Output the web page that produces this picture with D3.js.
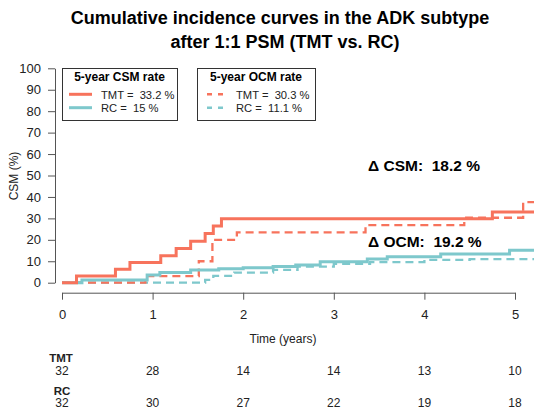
<!DOCTYPE html>
<html><head><meta charset="utf-8">
<script src="https://cdn.jsdelivr.net/npm/d3@7"></script>
<style>
body{margin:0;background:#fff;}
svg{display:block;font-family:"Liberation Sans",Arial,sans-serif;}
text{white-space:pre;}
</style></head>
<body><svg id="c" width="534" height="409"></svg>
<script>
// Data (time in years, cumulative incidence in %)
const tmtCSM = [[0,0],[0.16,3.1],[0.59,6.3],[0.75,9.4],[1.09,12.6],[1.26,15.9],[1.42,19.3],[1.58,22.9],[1.67,26.4],[1.76,29.8],[4.75,33.0],[5.3,33.0]];
const tmtOCM = [[0,0],[0.92,3.1],[1.51,10.0],[1.66,20.0],[1.93,23.5],[3.35,26.9],[4.44,30.3],[5.09,37.6],[5.3,37.6]];
const rcCSM  = [[0,0],[0.22,1.3],[0.94,3.6],[1.08,4.7],[1.42,5.9],[1.73,6.5],[2.0,7.0],[2.33,7.5],[2.58,8.3],[2.85,9.8],[3.37,11.0],[3.59,12.1],[4.18,13.4],[4.94,15.1],[5.3,15.1]];
const rcOCM  = [[0,0],[1.58,1.3],[1.67,3.2],[1.9,4.7],[2.33,6.0],[2.6,7.5],[3.0,8.8],[3.4,9.6],[4.0,10.6],[4.5,11.0],[5.3,11.0]];
const xTicks = [0,1,2,3,4,5];
const yTicks = [0,10,20,30,40,50,60,70,80,90,100];
const riskTMT = [32,28,14,14,13,10];
const riskRC  = [32,30,27,22,19,18];
const csmLegend = ["TMT =  33.2 %","RC =  15 %"];
const ocmLegend = ["TMT =  30.3 %","RC =  11.1 %"];
const deltaLabels = ["\u0394 CSM:  18.2 %","\u0394 OCM:  19.2 %"];

const RED = "#f7735c", TEAL = "#7ec8cc";
const svg = d3.select("#c");
const x = d3.scaleLinear().domain([0,5]).range([62,515]);
const y = d3.scaleLinear().domain([0,100]).range([282.7,68.3]);

// title
svg.append("text").attr("x",280).attr("y",24).attr("text-anchor","middle")
  .attr("font-size",18).attr("font-weight","bold").text("Cumulative incidence curves in the ADK subtype");
svg.append("text").attr("x",285).attr("y",48).attr("text-anchor","middle")
  .attr("font-size",18).attr("font-weight","bold").text("after 1:1 PSM (TMT vs. RC)");

// axes
const ya = svg.append("g").attr("transform","translate(55,0)")
  .call(d3.axisLeft(y).tickValues(yTicks).tickSize(7).tickSizeOuter(0).tickPadding(7));
const xa = svg.append("g").attr("transform","translate(0,292.7)")
  .call(d3.axisBottom(x).tickValues(xTicks).tickSize(7).tickSizeOuter(0).tickPadding(10).tickFormat(d3.format("d")));
[ya,xa].forEach(g=>{
  g.selectAll("path,line").attr("stroke","#555");
  g.selectAll("text").attr("font-size",13).attr("fill","#222").attr("font-family","Liberation Sans, Arial, sans-serif");
});
svg.append("text").attr("transform","translate(18,176) rotate(-90)").attr("text-anchor","middle")
  .attr("font-size",12).attr("fill","#222").text("CSM (%)");
svg.append("text").attr("x",283).attr("y",343).attr("text-anchor","middle")
  .attr("font-size",12).attr("fill","#222").text("Time (years)");

// curves
const line = d3.line().x(d=>x(d[0])).y(d=>y(d[1])).curve(d3.curveStepAfter);
const curves = [
  {d:rcOCM, c:TEAL, dash:"8,5", w:2.3},
  {d:tmtOCM, c:RED, dash:"8,5", w:2.3},
  {d:rcCSM, c:TEAL, dash:null, w:3},
  {d:tmtCSM, c:RED, dash:null, w:3}
];
curves.forEach(k=>{
  svg.append("path").datum(k.d).attr("d",line).attr("fill","none")
    .attr("stroke",k.c).attr("stroke-width",k.w).attr("stroke-dasharray",k.dash);
});

// delta labels
svg.append("text").attr("x",368).attr("y",171).attr("font-size",15.5).attr("font-weight","bold").text(deltaLabels[0]);
svg.append("text").attr("x",368).attr("y",247).attr("font-size",15.5).attr("font-weight","bold").text(deltaLabels[1]);

// legends
function legend(x0,x1,title,labels,dashed){
  const g = svg.append("g");
  g.append("rect").attr("x",x0+0.5).attr("y",68.5).attr("width",x1-x0).attr("height",52)
    .attr("fill","#fff").attr("stroke","#333").attr("stroke-width",1);
  g.append("text").attr("x",(x0+x1)/2).attr("y",80.5).attr("text-anchor","middle")
    .attr("font-size",12).attr("font-weight","bold").text(title);
  [RED,TEAL].forEach((c,i)=>{
    const yy = i===0?94.3:107.7;
    if(dashed){
      g.append("line").attr("x1",x0+10).attr("x2",x0+26).attr("y1",yy).attr("y2",yy)
        .attr("stroke",c).attr("stroke-width",2.5).attr("stroke-dasharray","5,6");
    } else {
      g.append("line").attr("x1",x0+7).attr("x2",x0+30).attr("y1",yy).attr("y2",yy)
        .attr("stroke",c).attr("stroke-width",3);
    }
    g.append("text").attr("x",x0+39).attr("y",yy+4.2).attr("font-size",11.2).attr("fill","#222").text(labels[i]);
  });
}
legend(62,177,"5-year CSM rate",csmLegend,false);
legend(197,315,"5-year OCM rate",ocmLegend,true);

// risk table
const rt = svg.append("g").attr("font-size",12).attr("fill","#222");
rt.append("text").attr("x",x(0)-1).attr("y",362).attr("font-size",11.5).attr("text-anchor","middle").attr("font-weight","bold").text("TMT");
rt.append("text").attr("x",x(0)).attr("y",395).attr("font-size",11.5).attr("text-anchor","middle").attr("font-weight","bold").text("RC");
rt.selectAll(".t").data(riskTMT).enter().append("text").attr("x",(d,i)=>x(xTicks[i])).attr("y",375).attr("text-anchor","middle").text(d=>d);
rt.selectAll(".r").data(riskRC).enter().append("text").attr("x",(d,i)=>x(xTicks[i])).attr("y",407).attr("text-anchor","middle").text(d=>d);
</script></body></html>
